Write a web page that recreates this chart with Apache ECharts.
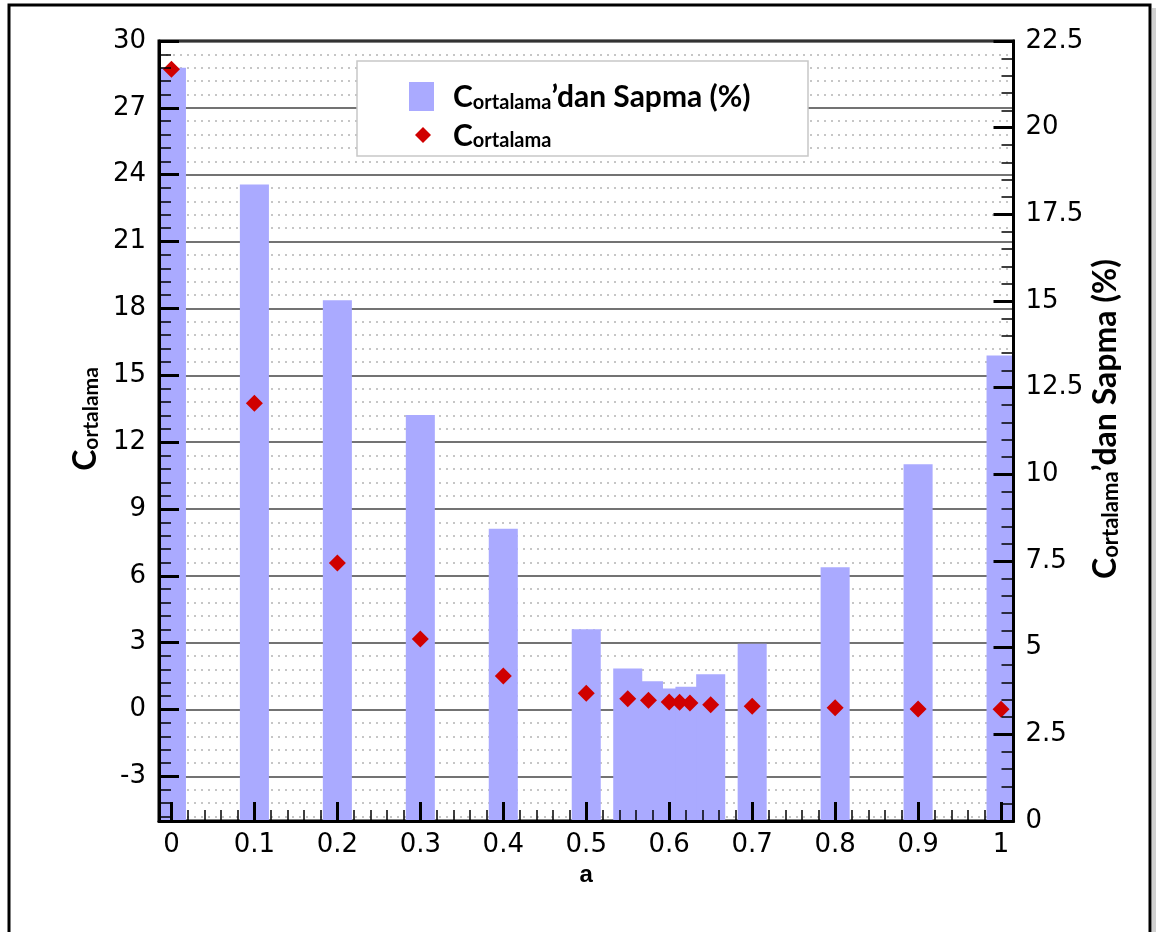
<!DOCTYPE html>
<html>
<head>
<meta charset="utf-8">
<script src="https://cdn.jsdelivr.net/npm/echarts@6/dist/echarts.min.js"></script>
<style>
html,body{margin:0;padding:0;background:#fff;}
#chart{width:1157px;height:932px;}
</style>
</head>
<body>
<div id="chart"></div>
<script>
// ---- data ----
const aValues   = [0, 0.1, 0.2, 0.3, 0.4, 0.5, 0.55, 0.575, 0.6, 0.6125, 0.625, 0.65, 0.7, 0.8, 0.9, 1.0];
const cOrtalama = [28.73, 13.75, 6.58, 3.17, 1.51, 0.73, 0.49, 0.42, 0.34, 0.33, 0.30, 0.22, 0.15, 0.08, 0.03, 0.02];
const sapma     = [21.73, 18.36, 15.02, 11.71, 8.43, 5.53, 4.40, 4.03, 3.82, 3.75, 3.87, 4.23, 5.11, 7.32, 10.29, 13.43];
const xTickLabels = [0, 0.1, 0.2, 0.3, 0.4, 0.5, 0.6, 0.7, 0.8, 0.9, 1];
const leftTickLabels = [-3, 0, 3, 6, 9, 12, 15, 18, 21, 24, 27, 30];
const seriesNames = ['Cortalama’dan Sapma (%)', 'Cortalama'];

// minor tick positions (axis decoration only)
const xMinor = [];
for (let k = 1; k < 50; k++) { if (k % 5 !== 0) xMinor.push(Math.round(k * 0.02 * 1000) / 1000); }
const leftMinor = [];
for (let k = -8; k <= 49; k++) { if (k % 5 !== 0) leftMinor.push(Math.round(k * 0.6 * 1000) / 1000); }

const BAR_HALF = 0.0175;
const chart = echarts.init(document.getElementById('chart'));

const richBig = (size, sub) => ({
  m: { fontFamily: 'Lato', fontWeight: 'bold', fontSize: size, lineHeight: size + 2, color: '#000', verticalAlign: 'bottom' },
  s: { fontFamily: 'Lato', fontWeight: 'bold', fontSize: sub, lineHeight: sub, color: '#000', verticalAlign: 'bottom' }
});
const tickFont = { fontFamily: 'DejaVu Sans', fontSize: 26, color: '#000' };

const option = {
  backgroundColor: '#fff',
  animation: false,
  graphic: [
    { type: 'rect', z: 0, shape: { x: 9, y: 5, width: 1141, height: 940 },
      style: { fill: 'none', stroke: '#000', lineWidth: 3 } },
    { type: 'rect', z: 0, shape: { x: 1152, y: 8, width: 4, height: 930 },
      style: { fill: '#d0d0d0' } },
    { type: 'rect', z: 100, shape: { x: 357, y: 61, width: 451, height: 95 },
      style: { fill: '#fff', stroke: '#c8c8c8', lineWidth: 1.5 } }
  ],
  grid: { left: 159, right: 143.5, top: 41, bottom: 111, show: true, borderColor: '#000', borderWidth: 3, backgroundColor: '#fff', z: 0 },
  legend: [
    { data: [seriesNames[0]], left: 409, top: 82, padding: 0, z: 110, selectedMode: false,
      itemWidth: 25, itemHeight: 29, icon: 'rect',
      formatter: () => '{m|C}{s|ortalama}{m|’dan Sapma (%)}',
      textStyle: { padding: [0, 0, 0, 14], rich: richBig(30, 20) } },
    { data: [seriesNames[1]], left: 415, top: 121, padding: 0, z: 110, selectedMode: false,
      itemWidth: 16, itemHeight: 16, icon: 'diamond',
      formatter: () => '{m|C}{s|ortalama}',
      textStyle: { padding: [0, 0, 0, 17], rich: richBig(30, 20) } }
  ],
  xAxis: [
    { type: 'value', min: -0.015, max: 1.015, position: 'bottom', z: 10,
      axisLine: { show: true, onZero: false, lineStyle: { color: '#000', width: 3 } },
      axisTick: { show: true, inside: true, length: 19, lineStyle: { color: '#000', width: 3 }, customValues: xTickLabels },
      axisLabel: Object.assign({ show: true, customValues: xTickLabels, formatter: v => String(v), margin: 11 }, tickFont),
      splitLine: { show: false },
      name: 'a', nameLocation: 'middle', nameGap: 39,
      nameTextStyle: { fontFamily: 'Liberation Sans', fontWeight: 'bold', fontSize: 24, color: '#000' } },
    { type: 'value', min: -0.015, max: 1.015, position: 'bottom', z: 10,
      axisLine: { show: false, onZero: false },
      axisTick: { show: true, inside: true, length: 11, lineStyle: { color: '#000', width: 1.5 }, customValues: xMinor },
      axisLabel: { show: false }, splitLine: { show: false } }
  ],
  yAxis: [
    { type: 'value', min: -5, max: 30, position: 'left', z: 10,
      axisLine: { show: true, onZero: false, lineStyle: { color: '#000', width: 3 } },
      axisTick: { show: true, inside: true, length: 20, lineStyle: { color: '#000', width: 3 }, customValues: leftTickLabels },
      axisLabel: Object.assign({ show: true, customValues: leftTickLabels, formatter: v => String(v), margin: 13 }, tickFont),
      splitLine: { show: false },
      name: '{m|C}{s|ortalama}', nameLocation: 'middle', nameGap: 57, nameRotate: 90, nameMoveOverlap: false,
      nameTextStyle: { padding: [0, 0, 0, 24], rich: richBig(32, 21) } },
    { type: 'value', min: 0, max: 22.5, interval: 2.5, position: 'right', z: 10,
      axisLine: { show: true, onZero: false, lineStyle: { color: '#000', width: 3 } },
      axisTick: { show: true, inside: true, length: 20, lineStyle: { color: '#000', width: 3 } },
      minorTick: { show: true, splitNumber: 5, length: 12, lineStyle: { color: '#000', width: 1.5 } },
      axisLabel: Object.assign({ show: true, formatter: v => String(v), margin: 12 }, tickFont),
      splitLine: { show: false },
      name: '{m|C}{s|ortalama}{m|’dan Sapma (%)}', nameLocation: 'middle', nameGap: 74, nameRotate: 90, nameMoveOverlap: false,
      nameTextStyle: { padding: [0, 0, 0, 24], rich: richBig(32, 22) } },
    { type: 'value', min: -5, max: 30, position: 'left', z: 1,
      axisLine: { show: false, onZero: false },
      axisTick: { show: false, customValues: leftTickLabels },
      axisLabel: { show: false },
      splitLine: { show: true, lineStyle: { color: '#444', width: 1.5 } } },
    { type: 'value', min: -5, max: 30, position: 'left', z: 1,
      axisLine: { show: false, onZero: false },
      axisTick: { show: false, customValues: leftMinor },
      axisLabel: { show: false },
      splitLine: { show: true, lineStyle: { color: '#b4b4b4', width: 1.5, type: [2, 5] } } },
    { type: 'value', min: -5, max: 30, position: 'left', z: 10,
      axisLine: { show: false, onZero: false },
      axisTick: { show: true, inside: true, length: 12, lineStyle: { color: '#000', width: 1.5 }, customValues: leftMinor },
      axisLabel: { show: false },
      splitLine: { show: false } }
  ],
  series: [
    { name: seriesNames[0], type: 'custom', xAxisIndex: 0, yAxisIndex: 1, z: 3,
      itemStyle: { color: '#aaaaff' },
      data: aValues.map((a, i) => [a, sapma[i]]),
      renderItem: function (params, api) {
        const x = api.value(0), v = api.value(1);
        const p0 = api.coord([x - BAR_HALF, 0]);
        const p1 = api.coord([x + BAR_HALF, v]);
        const rect = echarts.graphic.clipRectByRect(
          { x: p0[0], y: p1[1], width: p1[0] - p0[0], height: p0[1] - p1[1] },
          { x: params.coordSys.x, y: params.coordSys.y, width: params.coordSys.width, height: params.coordSys.height });
        return rect && { type: 'rect', shape: rect, style: { fill: '#aaaaff' } };
      } },
    { name: seriesNames[1], type: 'scatter', xAxisIndex: 0, yAxisIndex: 0, z: 5,
      symbol: 'diamond', symbolSize: [17, 17],
      itemStyle: { color: '#d00000', opacity: 1 },
      data: aValues.map((a, i) => [a, cOrtalama[i]]) }
  ]
};
chart.setOption(option);
</script>
</body>
</html>
